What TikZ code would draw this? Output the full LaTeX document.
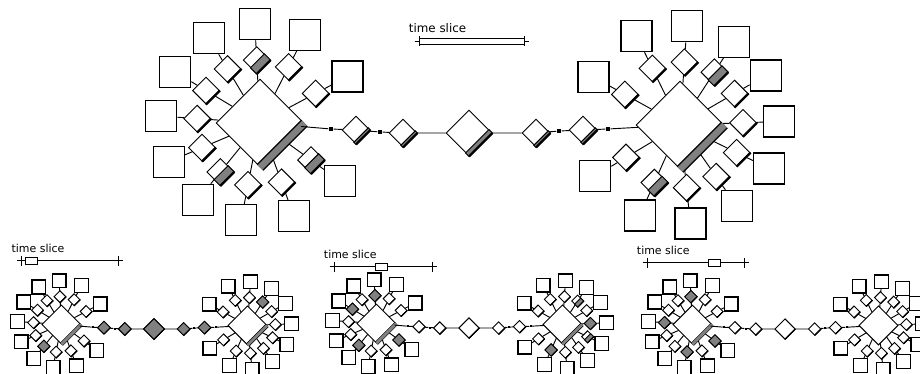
\documentclass[tikz,border=0pt]{standalone}
\usepackage{fontspec}
\setmainfont{DejaVu Sans}
\usetikzlibrary{shapes.geometric,calc}

\newcommand{\sk}{1}

% grey band on the lower right side of a diamond
\newcommand{\leafband}[2]{%
  \filldraw[fill=gray] (#1.east) -- (#1.south) -- ($(#1.south)!#2!(#1.west)$) -- ($(#1.east)!#2!(#1.north)$) -- cycle;
  \draw[edge] (#1.east) -- (#1.south);
}

% hub with its leaves: name, centre, angle/grey list, bar style
\newcommand{\cluster}[4]{%
  \begin{scope}[shift={#2}]
    \node[hub] (#1) at (0,0) {};
    \foreach \ang/\gry [count=\i] in {#3} {
      \node[leaf] (#1-l\i) at (\ang:63) {};
      \leafband{#1-l\i}{\gry}
      \node[box] (#1-s\i) at (\ang:99) {};
      \draw (#1-s\i) -- (#1-l\i) -- (#1);
    }
    \draw[#4] (#1.east) -- (#1.south);
  \end{scope}
}

% two hubs joined by a chain: prefix, left leaves, left bar, right leaves, right bar, chain grey
\newcommand{\panel}[6]{%
  \cluster{#1l}{(-209,-10)}{#2}{#3}
  \cluster{#1r}{(211,-8)}{#4}{#5}
  \node[link] (#1q1) at (-138,-4) {};
  \node[hop] (#1d1) at (-113,-3) {};
  \node[link] (#1q2) at (-89,-1) {};
  \node[hop] (#1d2) at (-66,0) {};
  \node[hop,minimum size=34.5pt] (#1m) at (0,0) {};
  \node[hop] (#1d3) at (67,0) {};
  \node[link] (#1q3) at (90,-2) {};
  \node[hop] (#1d4) at (114,-3) {};
  \node[link] (#1q4) at (139,-4) {};
  \foreach \dn in {d1,d2,m,d3,d4} {\leafband{#1\dn}{#6}}
  \draw (#1l) -- (#1q1) -- (#1d1) -- (#1q2) -- (#1d2) -- (#1m) -- (#1d3) -- (#1q3) -- (#1d4) -- (#1q4) -- (#1r);
}

% time slice scale: name, axis y, left tick, right tick, box from, box to, font size
\newcommand{\slice}[7]{%
  \coordinate (#1-a) at (#3,#2);
  \coordinate (#1-b) at (#4,#2);
  \node[anchor=base west,inner sep=0,font=\fontsize{#7}{#7}\selectfont] (#1-t) at ({#3-10.5},{#2-8.5}) {time slice};
  \draw ({#3-4.5},#2) -- (#1-a) -- (#1-b) -- ({#4+4.5},#2);
  \draw ({#3},{#2-5}) -- ({#3},{#2+5});
  \draw ({#4},{#2-5}) -- ({#4},{#2+5});
  \node[draw,fill=white,inner sep=0,minimum height=5.2pt,minimum width={(#6-#5)*0.75pt},anchor=west] (#1-r) at (#5,#2) {};
}

\begin{document}
\begin{tikzpicture}[x=0.75pt,y=-0.75pt,line width=0.7pt,
    hub/.style={diamond,draw,fill=white,inner sep=0,minimum size=66pt},
    leaf/.style={diamond,draw,fill=white,inner sep=0,minimum size=20.25pt},
    hop/.style={diamond,draw,fill=white,inner sep=0,minimum size=21pt},
    box/.style={rectangle,draw,fill=white,line width=1pt,inner sep=0,minimum size=23.25pt},
    link/.style={rectangle,fill=black,inner sep=0,minimum size=3.2pt},
    edge/.style={line width=\sk*1.8pt},
    bar/.style={double=gray,double distance=\sk*5pt,line width=\sk*1pt}]
  \useasboundingbox (0,0) rectangle (920,374);

  % large view
  \begin{scope}[shift={(469,133)}]
    \panel{t}{-93/0.45,-63/0,-28/0,36/0.45,70/0,101/0,129/0.45,157/0,-176/0,-149/0,-121/0}{bar}
      {-116/0,-86/0,-57/0.45,-30/0,-2/0,26/0,55/0,84/0,114/0.45,149/0,-151/0}{bar}{0.15}
  \end{scope}
  \slice{ts}{41.5}{419}{524}{419}{524}{8.9}

  % three small views
  \begin{scope}[shift={(154,329)},scale=0.443,transform shape]
    \renewcommand{\sk}{0.443}
    \panel{a}{-93/0,-63/0,-28/0,36/0,70/0,101/0,129/1,157/0,-176/0,-149/0,-121/0}{bar}
      {-116/0,-86/0,-57/1,-30/0,-2/0,26/0,55/0,84/0,114/0,149/0,-151/0}{bar}{1}
  \end{scope}
  \slice{sa}{260.7}{21.7}{118}{25}{37}{8.2}

  \begin{scope}[shift={(469,328)},scale=0.443,transform shape]
    \renewcommand{\sk}{0.443}
    \panel{b}{-93/1,-63/0,-28/0,36/1,70/0,101/0,129/1,157/0,-176/0,-149/1,-121/0}{bar}
      {-116/0,-86/0,-57/0.5,-30/0,-2/1,26/0.5,55/0,84/0,114/1,149/0,-151/0}{bar}{0}
  \end{scope}
  \slice{sb}{266.7}{334}{432}{375}{387}{8.2}

  \begin{scope}[shift={(785,329)},scale=0.443,transform shape]
    \renewcommand{\sk}{0.443}
    \panel{c}{-93/1,-63/0,-28/0,36/1,70/0,101/1,129/0,157/0,-176/1,-149/0,-121/0}{bar}
      {-116/0,-86/0,-57/0,-30/0,-2/0,26/0,55/0,84/0,114/0,149/0,-151/0}{draw=none}{0}
  \end{scope}
  \slice{sc}{262.7}{647}{744}{708}{720}{8.2}
\end{tikzpicture}
\end{document}
